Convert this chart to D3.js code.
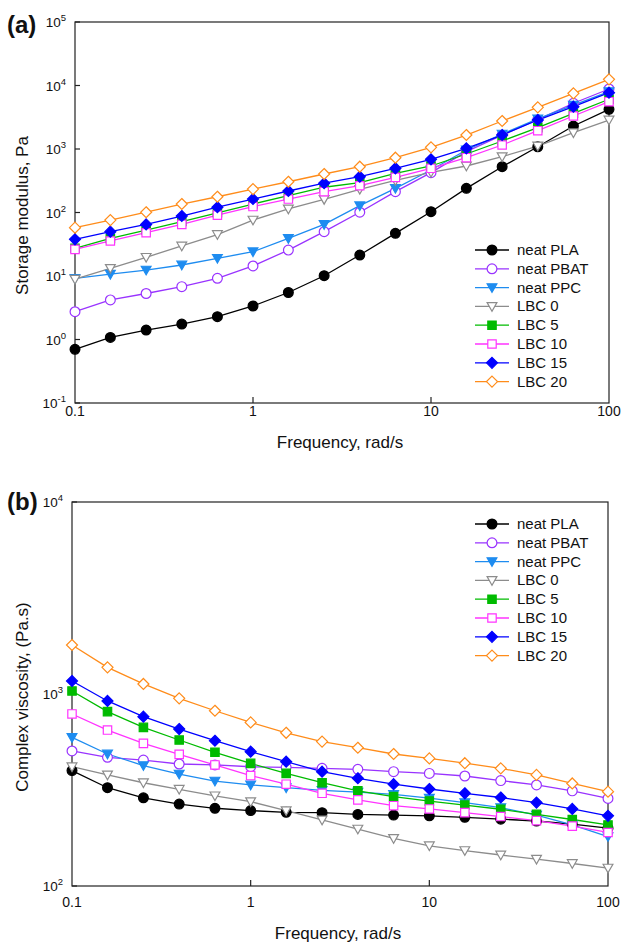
<!DOCTYPE html>
<html>
<head>
<meta charset="utf-8">
<script src="https://cdnjs.cloudflare.com/ajax/libs/d3/7.8.5/d3.min.js"></script>
<style>
  body { margin: 0; background: #fff; }
  svg text { font-family: "Liberation Sans", Arial, sans-serif; fill: #111; }
</style>
</head>
<body>
<div id="chart"></div>
<script>
// angular frequency, rad/s
var freq = [0.1, 0.158, 0.251, 0.398, 0.631, 1, 1.58, 2.51, 3.98, 6.31, 10, 15.8, 25.1, 39.8, 63.1, 100];

var seriesNames = ["neat PLA", "neat PBAT", "neat PPC", "LBC 0", "LBC 5", "LBC 10", "LBC 15", "LBC 20"];
var seriesColors = ["#000000", "#9933ff", "#1e8cf0", "#8c8c8c", "#00bb00", "#ff33ff", "#0000ff", "#ff8c1a"];
var seriesMarkers = ["circle", "circle", "triDown", "triDown", "square", "square", "diamond", "diamond"];
var seriesFilled = [true, false, true, false, true, false, true, false];

// (a) storage modulus, Pa
var gPLA = [0.70, 1.08, 1.41, 1.75, 2.29, 3.37, 5.5, 10.1, 21.4, 47, 103, 240, 526, 1085, 2300, 4220];
var gPBAT = [2.74, 4.2, 5.3, 6.8, 9.2, 14.4, 25.6, 49.9, 101, 213, 424, 907, 1650, 2900, 5250, 8810];
var gPPC = [9.2, 10.7, 12.4, 14.9, 19.0, 24.1, 39, 65, 128, 240, 467, 964, 1720, 2980, 4900, 8000];
var gLBC0 = [8.9, 13.2, 19.7, 29.7, 45, 76, 114, 161, 232, 320, 430, 540, 757, 1114, 1807, 2860];
var gLBC5 = [27.3, 39, 53, 72, 99, 136, 184, 250, 295, 414, 540, 834, 1337, 2170, 3650, 6070];
var gLBC10 = [26.3, 35.6, 48, 65, 91, 124, 163, 213, 264, 358, 497, 729, 1156, 1940, 3310, 5560];
var gLBC15 = [37.8, 49.9, 65, 88, 121, 163, 218, 289, 366, 497, 687, 1023, 1660, 2860, 4640, 7700];
var gLBC20 = [57.7, 76, 101, 136, 177, 234, 305, 404, 526, 729, 1062, 1660, 2760, 4530, 7530, 12500];

// (b) complex viscosity, Pa.s
var vPLA = [399, 325, 288, 267, 254, 247, 242, 241, 236, 234, 232, 228, 223, 218, 210, 200];
var vPBAT = [505, 468, 453, 432, 427, 418, 415, 410, 405, 394, 386, 374, 354, 336, 313, 286];
var vPPC = [594, 487, 424, 383, 352, 336, 325, 315, 308, 300, 287, 272, 256, 234, 208, 181];
var vLBC0 = [418, 379, 345, 319, 295, 275, 247, 221, 198, 177, 162, 153, 145, 138, 131, 124];
var vLBC5 = [1037, 809, 670, 576, 497, 435, 386, 345, 313, 292, 277, 264, 251, 236, 222, 208];
var vLBC10 = [787, 649, 553, 485, 427, 376, 339, 304, 281, 262, 252, 241, 230, 219, 205, 190];
var vLBC15 = [1169, 920, 762, 657, 571, 501, 444, 394, 364, 339, 320, 304, 289, 272, 252, 232];
var vLBC20 = [1800, 1377, 1128, 949, 818, 711, 628, 565, 525, 487, 462, 436, 410, 379, 342, 310];

var xTicks = [0.1, 1, 10, 100];
var xTickLabels = ["0.1", "1", "10", "100"];

var svg = d3.select("#chart").append("svg")
    .attr("width", 623)
    .attr("height", 942);

function markerPath(type) {
    switch (type) {
    case "circle":
        return d3.symbol().type(d3.symbolCircle).size(Math.PI * 4.9 * 4.9)();
    case "square":
        return "M-4.2,-4.2H4.2V4.2H-4.2Z";
    case "diamond":
        return "M0,-5.5L5.5,0L0,5.5L-5.5,0Z";
    case "triDown":
        return "M-4.9,-3.8H4.9L0,4.8Z";
    }
}

function drawMarker(g, x, y, i) {
    g.append("path")
        .attr("d", markerPath(seriesMarkers[i]))
        .attr("transform", "translate(" + x + "," + y + ")")
        .attr("fill", seriesFilled[i] ? seriesColors[i] : "#fff")
        .attr("stroke", seriesColors[i])
        .attr("stroke-width", 1.2);
}

function drawPanel(p) {
    var x = d3.scaleLog().domain([0.1, 100]).range([p.left, p.right]),
        y = d3.scaleLog().domain(p.yDomain).range([p.bottom, p.top]),
        g = svg.append("g"),
        line = d3.line()
            .x(function (d) { return x(d[0]); })
            .y(function (d) { return y(d[1]); });

    // frame
    g.append("rect")
        .attr("x", p.left).attr("y", p.top)
        .attr("width", p.right - p.left).attr("height", p.bottom - p.top)
        .attr("fill", "none").attr("stroke", "#222").attr("stroke-width", 1.2);

    // y ticks and labels (10^n)
    p.yExps.forEach(function (e) {
        var yy = y(Math.pow(10, e));
        g.append("line")
            .attr("x1", p.left).attr("x2", p.left + 5)
            .attr("y1", yy).attr("y2", yy)
            .attr("stroke", "#222").attr("stroke-width", 1.2);
        var t = g.append("text")
            .attr("x", p.left - 9).attr("y", yy + 5)
            .attr("text-anchor", "end")
            .attr("font-size", 13.5);
        t.append("tspan").text("10");
        t.append("tspan").attr("dy", -6).attr("font-size", 9.5).text(String(e));
    });

    // x ticks and labels
    xTicks.forEach(function (v, k) {
        var xx = x(v);
        if (k > 0 && k < xTicks.length - 1) {
            g.append("line")
                .attr("x1", xx).attr("x2", xx)
                .attr("y1", p.bottom).attr("y2", p.bottom - 6)
                .attr("stroke", "#222").attr("stroke-width", 1.2);
        }
        g.append("text")
            .attr("x", xx).attr("y", p.bottom + p.xLabelGap)
            .attr("text-anchor", "middle")
            .attr("font-size", 14)
            .text(xTickLabels[k]);
    });

    // axis titles
    g.append("text")
        .attr("x", (p.left + p.right) / 2 - 2).attr("y", p.xTitleY)
        .attr("text-anchor", "middle").attr("font-size", 17)
        .text("Frequency, rad/s");
    g.append("text")
        .attr("transform", "translate(28," + ((p.top + p.bottom) / 2 + 3) + ") rotate(-90)")
        .attr("text-anchor", "middle").attr("font-size", 17)
        .text(p.yTitle);

    g.append("text")
        .attr("x", 7).attr("y", p.tagY)
        .attr("font-size", 24).attr("font-weight", "bold")
        .text(p.tag);

    // series
    p.series.forEach(function (vals, i) {
        var pts = freq.map(function (f, j) { return [f, vals[j]]; });
        g.append("path")
            .attr("d", line(pts))
            .attr("fill", "none")
            .attr("stroke", seriesColors[i])
            .attr("stroke-width", 1.3);
    });
    p.series.forEach(function (vals, i) {
        freq.forEach(function (f, j) {
            drawMarker(g, x(f), y(vals[j]), i);
        });
    });

    // legend
    seriesNames.forEach(function (name, i) {
        var ly = p.legendY + i * 18.8;
        g.append("line")
            .attr("x1", 475).attr("x2", 509)
            .attr("y1", ly).attr("y2", ly)
            .attr("stroke", seriesColors[i]).attr("stroke-width", 1.3);
        drawMarker(g, 492, ly, i);
        g.append("text")
            .attr("x", 517).attr("y", ly + 5)
            .attr("font-size", 15)
            .text(name);
    });
}

drawPanel({
    left: 75, right: 609, top: 22, bottom: 403,
    yDomain: [0.1, 1e5], yExps: [-1, 0, 1, 2, 3, 4, 5],
    xLabelGap: 13, xTitleY: 448,
    yTitle: "Storage modulus, Pa", tag: "(a)", tagY: 33,
    legendY: 250,
    series: [gPLA, gPBAT, gPPC, gLBC0, gLBC5, gLBC10, gLBC15, gLBC20]
});

drawPanel({
    left: 72, right: 608, top: 502, bottom: 886,
    yDomain: [100, 1e4], yExps: [2, 3, 4],
    xLabelGap: 21, xTitleY: 939,
    yTitle: "Complex viscosity, (Pa.s)", tag: "(b)", tagY: 510,
    legendY: 524,
    series: [vPLA, vPBAT, vPPC, vLBC0, vLBC5, vLBC10, vLBC15, vLBC20]
});
</script>
</body>
</html>
